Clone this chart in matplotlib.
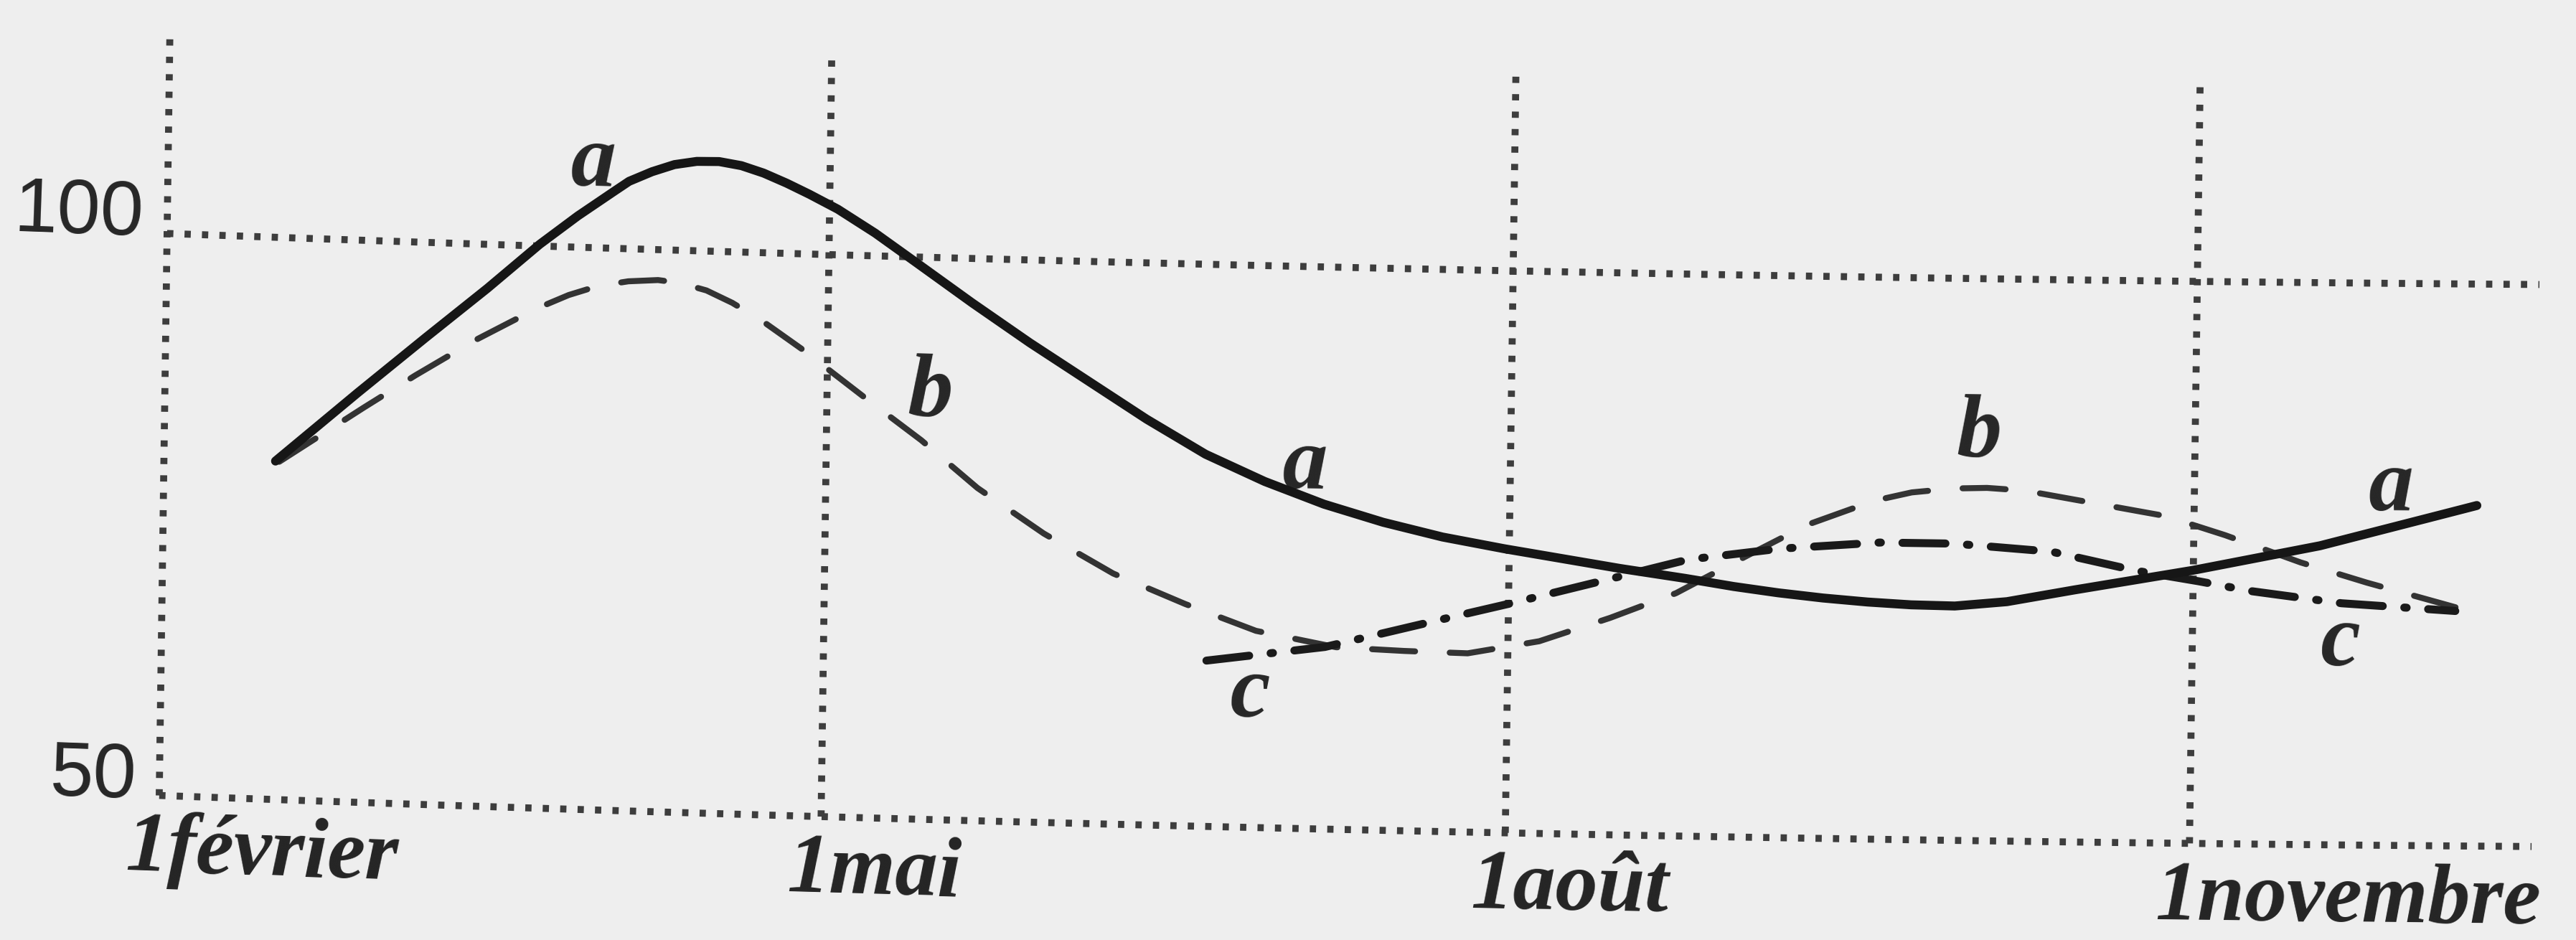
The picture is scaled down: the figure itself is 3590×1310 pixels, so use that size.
import math
import numpy as np
import matplotlib
matplotlib.use("Agg")
import matplotlib.pyplot as plt
from matplotlib import font_manager
from matplotlib.path import Path
from matplotlib.transforms import Transform

# ---- data (x in days counted from 1 February) ----
month_days = [0, 89, 181, 273]
month_labels = ["1février", "1mai", "1août", "1novembre"]
value_ticks = [50, 100]
value_labels = ["50", "100"]

a_days = [15, 25, 34, 43, 50, 55, 59, 62, 65, 68, 71, 74, 77, 80, 83, 86, 90, 95, 99,
          108, 116, 124, 132, 140, 148, 156, 164, 172, 180, 188, 196, 204, 211, 217,
          223, 229, 235, 241, 248, 256, 273, 290, 311]
a_vals = [80.1, 85.9, 91.0, 96.0, 100.1, 102.7, 104.6, 106.0, 106.9, 107.6, 107.95,
          108.0, 107.7, 107.1, 106.3, 105.4, 104.1, 102.1, 100.3, 96.2, 92.7, 89.4,
          86.1, 83.1, 80.8, 78.9, 77.4, 76.2, 75.3, 74.5, 73.7, 73.0, 72.3, 71.8,
          71.4, 71.1, 70.9, 70.85, 71.3, 72.3, 74.3, 76.6, 80.3]

b_days = [15.5, 25.8, 33.3, 41.5, 49.7, 54, 58, 62, 66, 69, 72.6, 76, 80, 85.4, 89.5,
          93.6, 101.6, 109.4, 118.4, 127.8, 137.5, 147.1, 157.9, 166.7, 175.6, 185.2,
          194.7, 203.5, 212.3, 221.1, 229.9, 235, 240.4, 245, 250.2, 259.2, 269.1,
          277.0, 287.4, 296.1, 308.5]
b_vals = [80.05, 84.7, 88.0, 91.4, 94.4, 95.7, 96.6, 97.1, 97.3, 97.1, 96.5, 95.5,
          94.0, 91.6, 89.6, 87.6, 83.8, 79.6, 75.7, 72.3, 69.75, 67.5, 66.2, 66.0,
          65.9, 67.1, 69.3, 71.6, 74.8, 77.9, 80.1, 80.9, 81.3, 81.4, 81.2, 80.2,
          79.1, 77.5, 75.1, 73.4, 71.2]

c_days = [140.5, 156.4, 170.4, 180.6, 192.0, 205.0, 217.1, 230.6, 240.8, 253.9,
          265.3, 273.1, 280.8, 293.0, 308.3]
c_vals = [64.75, 66.2, 68.6, 70.3, 72.3, 74.6, 75.7, 76.4, 76.4, 75.8, 74.2, 73.4,
          72.5, 71.5, 70.9]


class PaperWarp(Transform):
    """Lean and gentle bow of the printed grid, applied in axes coordinates."""
    input_dims = 2
    output_dims = 2

    def __init__(self, lean, bow1, bow2, x0, y0):
        super().__init__()
        self.lean, self.bow1, self.bow2 = lean, bow1, bow2
        self.x0, self.y0 = x0, y0

    def transform_non_affine(self, values):
        v = np.asarray(values, dtype=float)
        single = v.ndim == 1
        v = np.atleast_2d(v)
        x, y = v[:, 0], v[:, 1]
        s = x - self.x0
        out = np.column_stack([x + self.lean * (y - self.y0),
                               y - (self.bow1 * s - self.bow2 * s * s)])
        return out[0] if single else out

    def transform_path_non_affine(self, path):
        p = path.interpolated(48)
        return Path(self.transform_non_affine(p.vertices), p.codes)


PAPER = "#eeeeee"
INK = "#161616"
GRID = "#3d3d3d"

fig = plt.figure(figsize=(35.91, 13.10), dpi=100, facecolor=PAPER)
ax = fig.add_axes([0, 0, 1, 1])
ax.set_xlim(-21.41, 325.07)
ax.set_ylim(37.13, 120.76)
ax.axis("off")

warp = PaperWarp(lean=0.005107, bow1=0.0987, bow2=0.0430, x0=0.0606, y0=0.1538)
page = ax.transScale + ax.transLimits + warp + ax.transAxes


def page_angle(x, y):
    p = page.transform(np.array([[x, y], [x + 4.0, y]]))
    return math.degrees(math.atan2(p[1, 1] - p[0, 1], p[1, 0] - p[0, 0]))


# dotted grid
grid_kw = dict(transform=page, color=GRID, lw=7.0, linestyle=(0, (0.9, 1.6)),
               dash_capstyle="butt", zorder=1)
for d in month_days:
    ax.plot([d, d], [value_ticks[0], 118], **grid_kw)
for v in value_ticks:
    ax.plot([month_days[0], 319], [v, v], **grid_kw)

# curves
ax.plot(a_days, a_vals, transform=page, color=INK, lw=9.0,
        solid_capstyle="round", solid_joinstyle="round", zorder=4)
ax.plot(b_days, b_vals, transform=page, color="#333333", lw=6.0,
        linestyle=(0, (7.2, 5.8)), dash_capstyle="round", zorder=3)
ax.plot(c_days, c_vals, transform=page, color="#1a1a1a", lw=8.0,
        linestyle=(0, (5.4, 2.7, 0.3, 2.7)), dash_capstyle="round", zorder=3)

# value labels
names = {f.name for f in font_manager.fontManager.ttflist}
if "Liberation Sans Narrow" in names:
    num_font, num_size = "Liberation Sans Narrow", 88
else:
    num_font, num_size = "Liberation Sans", 78
for v, lbl in zip(value_ticks, value_labels):
    ax.text(-3.2, v - 0.3, lbl, transform=page, ha="right", va="baseline",
            family=num_font, fontsize=num_size, color="#262626",
            rotation=page_angle(-3.2, v), rotation_mode="anchor")

# month labels
for d, lbl in zip(month_days, month_labels):
    ax.text(d - 4.5, 43.3, lbl, transform=page, ha="left", va="baseline",
            family="Liberation Serif", style="italic", weight="bold", fontsize=85,
            color="#242424", rotation=page_angle(d - 4.5, 43.3),
            rotation_mode="anchor")

# curve letters
curve_letters = [("a", 57.1, 107.4), ("b", 102.9, 87.8), ("a", 153.4, 82.2),
                 ("c", 146.4, 61.8), ("b", 243.9, 86.1), ("a", 299.4, 81.7),
                 ("c", 292.9, 67.9)]
for txt, x, y in curve_letters:
    ax.text(x, y, txt, transform=page, ha="center", va="center",
            family="Liberation Serif", style="italic", weight="bold", fontsize=90,
            color="#262626", rotation=page_angle(x, y), rotation_mode="anchor")

fig.savefig("out.png", dpi=100, facecolor=PAPER)
